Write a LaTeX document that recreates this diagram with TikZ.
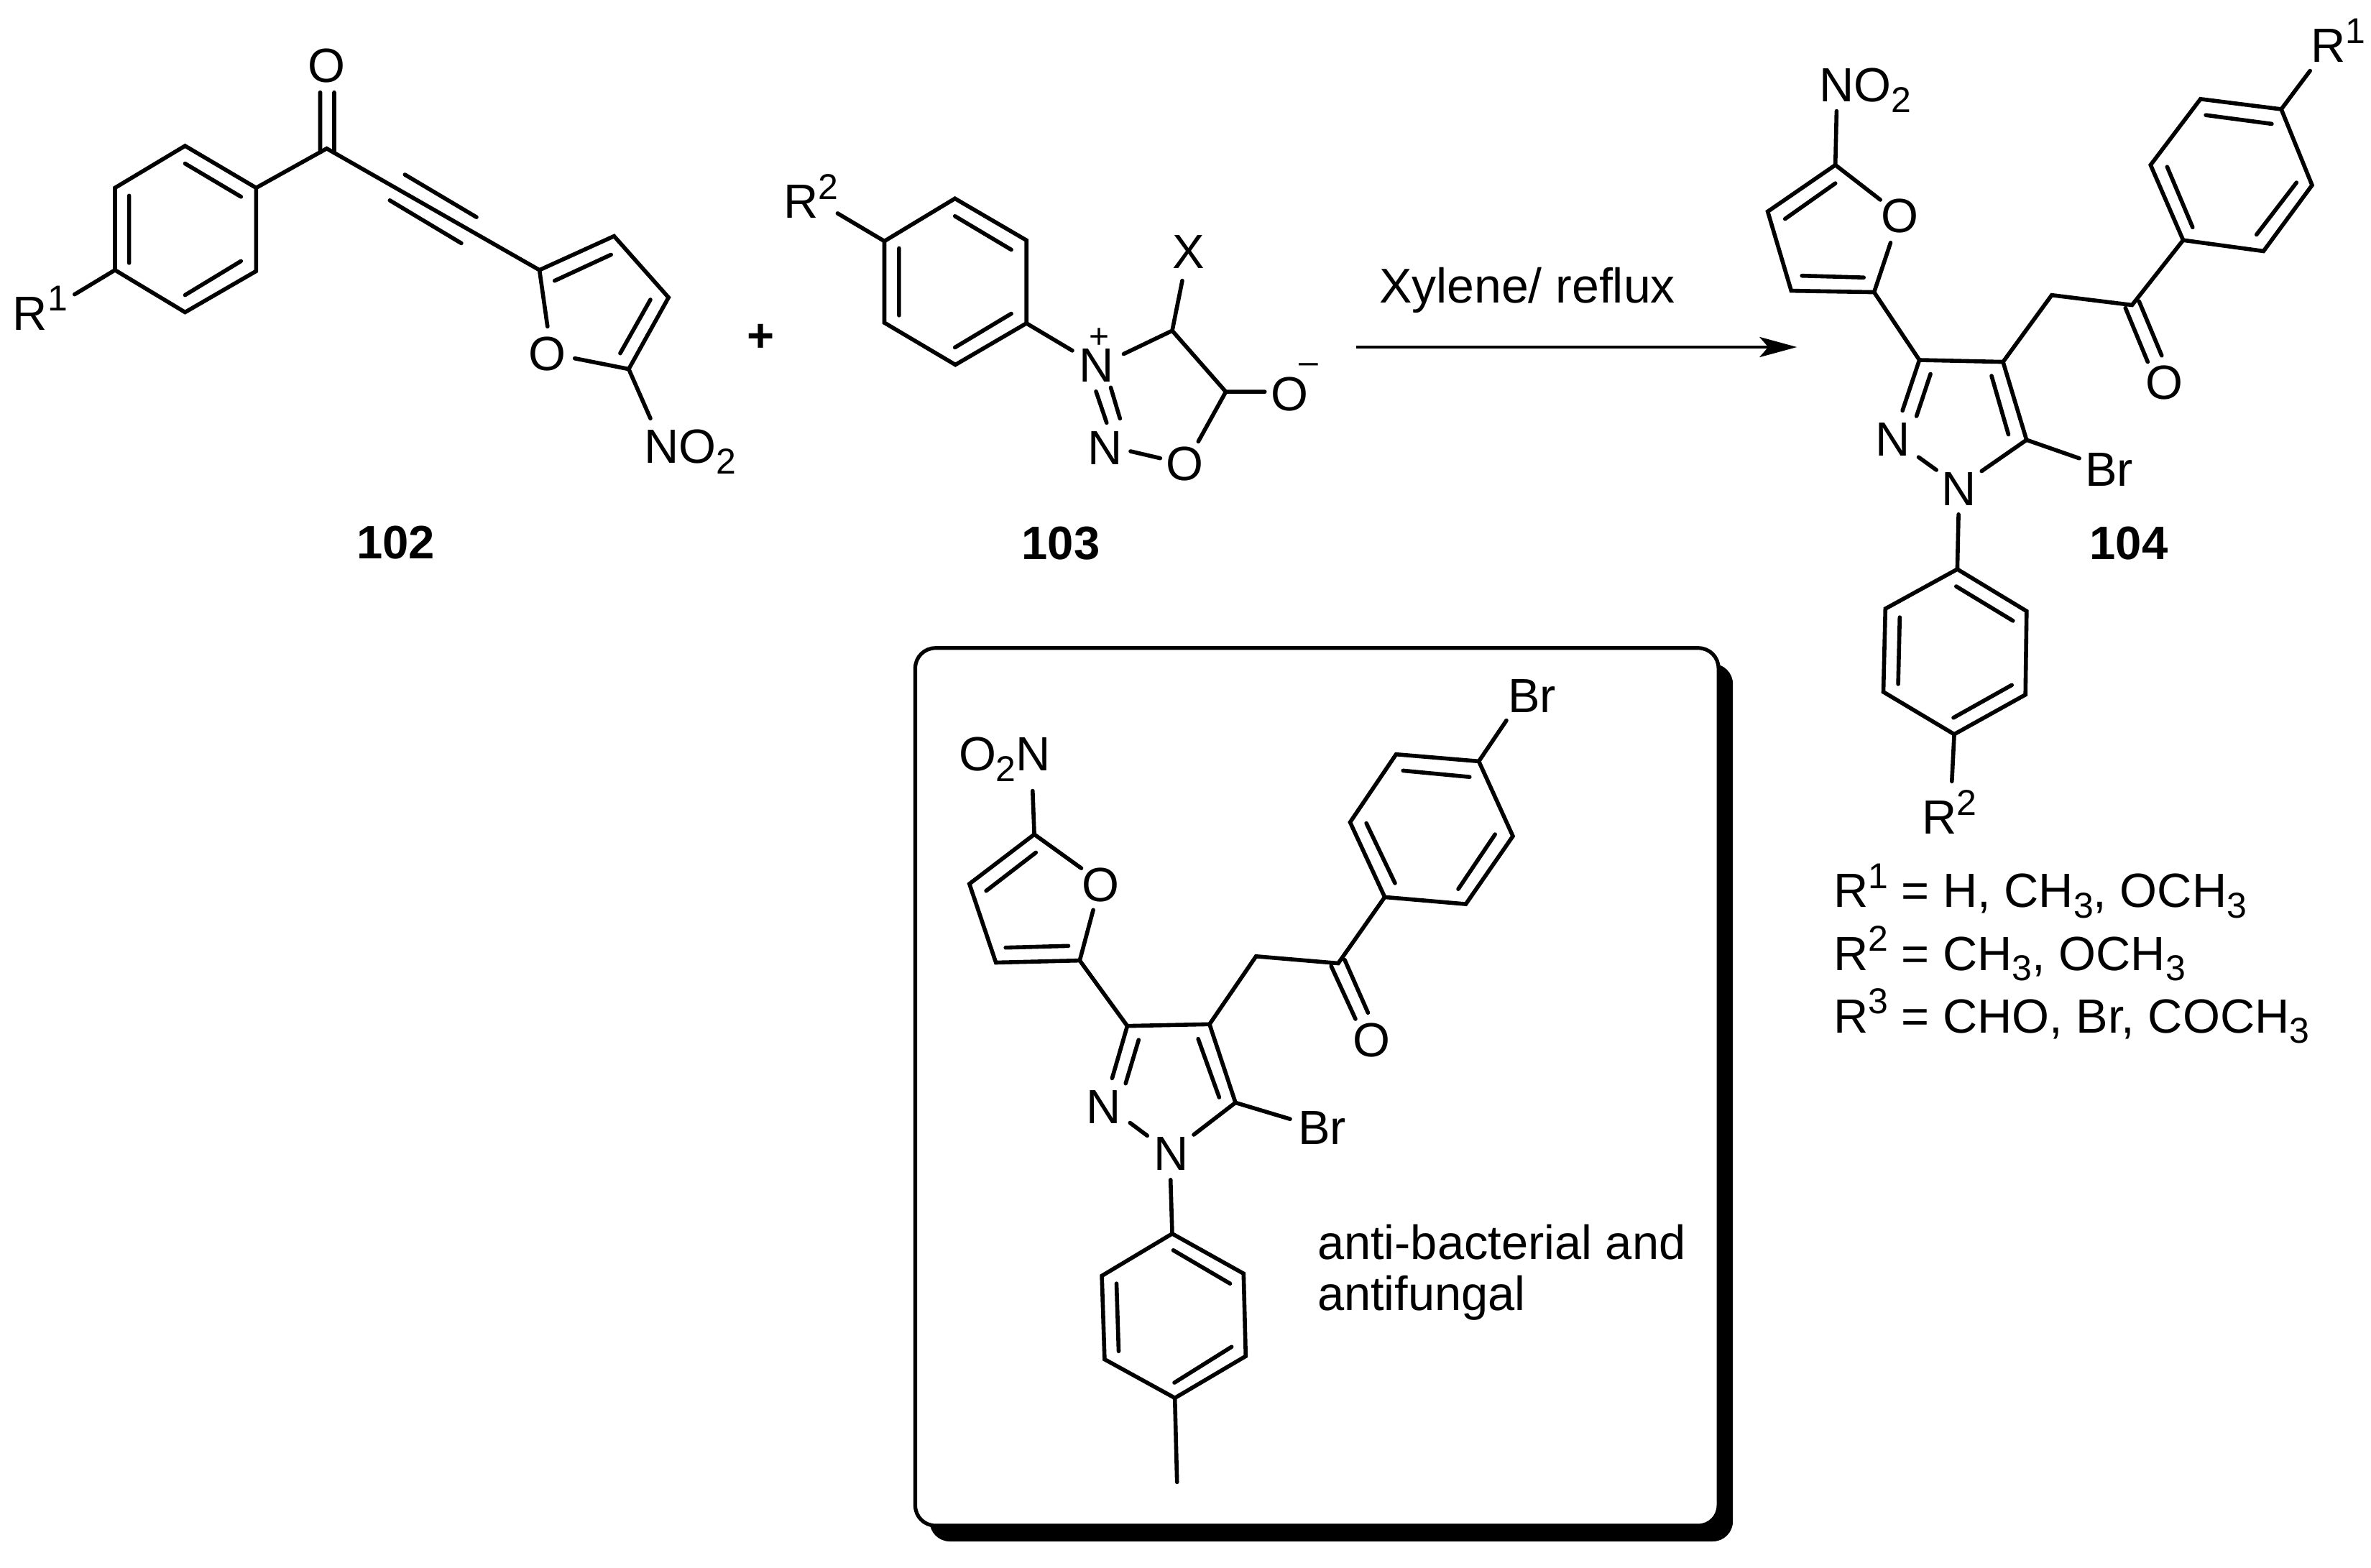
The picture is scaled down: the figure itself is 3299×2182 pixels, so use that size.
\documentclass[tikz,border=0pt]{standalone}
\usepackage{fontspec}
\setmainfont{Liberation Sans}
\usetikzlibrary{arrows.meta}
\newcommand{\supn}[1]{\raisebox{6.6pt}{\fontsize{12.5}{12.5}\selectfont #1}}
\newcommand{\subn}[1]{\raisebox{-3.7pt}{\fontsize{12.5}{12.5}\selectfont #1}}
\newcommand{\chargen}[3]{\rlap{\kern#1\raisebox{#2}{\fontsize{12}{12}\selectfont #3}}}
\tikzset{
  bond/.style={line width=1.4pt,line cap=round,line join=miter},
  lab/.style={inner sep=0pt,outer sep=0pt,font=\fontsize{16.7}{18}\selectfont},
  numlab/.style={lab,anchor=base,font=\fontsize{16.3}{18}\selectfont\bfseries},
  panel/.style={rectangle,rounded corners=7pt,minimum width=279.4pt,minimum height=305.3pt,inner sep=0pt},
  reaction/.style={line width=1.2pt,-{Stealth[length=13pt,width=7pt,inset=3pt]}}
}
\begin{document}
\begin{tikzpicture}[x=0.25pt,y=-0.25pt]
\useasboundingbox (0,0) rectangle (3299,2182);
% panel
\node[panel,fill=black] (panelshadow) at (1852.3,1534.4) {};
\node[panel,draw=black,fill=white,line width=1.3pt] (panelbox) at (1832.3,1512.4) {};
% vertices
\foreach \n/\x/\y in {
 a1/257.5/203,a2/356.4/261.4,a3/356.4/377.3,a4/257.5/434.5,a5/160/375.8,a6/160/261.4,
 a12i/257.5/227.6,a2i/335.3/273.8,a6i/179.6/272.3,a5i/179.6/365.9,a3i/335.3/363.4,a4i/257.5/410.6,
 aR/103.8/409.7,aC/454.6/206.7,aO1/445.5/128.6,aO2/465/128.6,aC1/445.5/211.7,aC2/465/212.6,
 at1/563.3/243,at2/663/302.2,at3/542.3/278.8,at4/641.9/338.5,
 af2/750.6/375.8,af3/854.4/328.6,af4/930.2/414,af5/874.8/513.6,
 af2i/771.7/390.7,af3i/850.2/354.4,af4i/905/417,af5i/862.9/491.7,
 afO1/761.8/454.4,afO2/799.7/498.7,afN/905/582.3,
 b1/1328.7/276.3,b2/1428.2/334.4,b3/1428.2/449.9,b4/1329.3/507.6,b5/1230.5/449.1,b6/1230.5/335.6,
 b1i/1328.7/300.8,b2i/1407.1/347.5,b6i/1250.9/345.5,b5i/1250.9/438.8,b3i/1407.1/436.5,b4i/1328.7/483.5,
 bR/1165.4/296.9,bNa/1492/487.9,bNb/1563.4/492.6,bC4/1631/460.2,bX/1645/390.6,bC5/1705.6/545.2,
 bOm/1759.8/545.2,bOr/1667.3/614.4,bOl/1614.4/637.7,bNr/1573/628,
 bd1/1525/544.8,bd2/1539.8/588.3,bd3/1545.5/539.3,bd4/1558.3/582.4,
 arrS/1886.7/483,arrE/2500.3/483,
 cf5/2553.7/229.6,cf4/2459.6/294.4,cf3/2492.3/404.6,cf2/2607.6/406.6,
 cfOa/2616.2/278,cfOb/2630.5/337.8,cf5i/2553.7/255.1,cf4i/2483.7/304.6,cf3i/2507.2/383.7,cf2i/2593.2/386.2,
 cfN/2555.4/154.6,cp3/2670.6/501,cp4/2787/503.6,cp5/2819.7/612.2,
 cp3a/2647.1/571.4,cp3b/2686.1/520.4,cp3c/2666.6/579.1,cp4i/2771/523,cp5i/2794.5/604.6,
 cnn1/2669.5/636.2,cnn2/2694.2/654,cn1/2757.2/655.6,cBr/2893.1/637.8,
 cH/2854.7/410.7,cCO/2966.5/424.5,cd1/2957.3/428.6,cd2/2988.3/503.6,cd3/2976.3/419.4,cd4/3007.8/494.9,
 cr1/3037.6/334.2,cr2/3149.4/349.5,cr3/3217/257.7,cr4/3174.1/152,cr5/3061.7/137.8,cr6/2992.3/229.6,
 cr6i/3015.3/232.1,cr1i/3050.8/316.3,cr2i/3139.7/326.5,cr3i/3195.3/254.1,cr4i/3160.9/172.4,cr5i/3069.1/160.2,
 cR1/3214.2/98.5,cNb/2725.1/715.8,
 cq1/2723.4/792.1,cq2/2819.8/850.5,cq3/2818.2/966.7,cq4/2719.1/1021.8,cq5/2620.5/962.9,cq6/2623.3/847.1,
 cq1i/2721.8/816,cq2i/2800.8/863.9,cq6i/2643.3/859.1,cq5i/2641.1/951.9,cq3i/2799.2/953.3,cq4i/2718/998.8,
 cR2/2715.8/1087.3,
 df5/1439.1/1161.1,df4/1348.8/1230,df3/1385.7/1339.5,df2/1502.3/1336.6,
 dfOa/1504.5/1208.2,dfOb/1521.1/1266.3,df5i/1441.3/1186.4,df4i/1372.1/1239.7,df3i/1399.2/1318.7,df2i/1486.5/1316.3,
 dfN/1436.8/1100.6,dp3/1568.5/1427.7,dp4/1682.9/1425.3,dp5/1719/1534.4,
 dp3a/1547.4/1500.5,dp3b/1584.3/1447.1,dp3c/1566.2/1507.7,dp4i/1667.1/1445.7,dp5i/1696.4/1527.1,
 dnn1/1572.3/1562.5,dnn2/1596.3/1580.4,dn1/1661/1579,dBr/1795/1557.2,
 dH/1747.6/1330.8,dCO/1862/1340.5,dd1/1852.2/1344.4,dd2/1886/1418,dd3/1871/1335.7,dd4/1903.4/1409.3,
 dr1/1926.7/1248.4,dr2/2039.5/1258.1,dr3/2105/1163.6,dr4/2057.6/1059.4,dr5/1942.5/1049.7,dr6/1878.5/1144.2,
 dr6i/1901.1/1145.6,dr1i/1941/1229,dr2i/2029/1237.2,dr3i/2080.2/1161.1,dr4i/2044.8/1081.2,dr5i/1952.2/1072.4,
 dBr2/2096/1002.6,dNb/1628.7/1641.8,
 dq1/1631/1716.8,dq2/1730.3/1772.3,dq3/1733.3/1887.2,dq4/1634.7/1945.4,dq5/1536.9/1891.6,dq6/1533.1/1775.4,
 dq1i/1632.5/1739.8,dq2i/1711.5/1786.2,dq6i/1553.5/1786.2,dq5i/1556.5/1880.3,dq3i/1713.7/1874.2,dq4i/1634/1924.1,
 dMe/1637.7/2062.4}
 \coordinate (\n) at (\x,\y);
% compound 102
\draw[bond] (a1)--(a2)--(a3)--(a4)--(a5)--(a6)--cycle;
\draw[bond] (a12i)--(a2i) (a6i)--(a5i) (a3i)--(a4i) (a5)--(aR) (a2)--(aC)--(af2);
\draw[bond] (aO1)--(aC1) (aO2)--(aC2) (at1)--(at2) (at3)--(at4);
\draw[bond] (af2)--(af3)--(af4)--(af5)--(afO2) (af2)--(afO1) (af2i)--(af3i) (af4i)--(af5i) (af5)--(afN);
\node[lab,anchor=base west] (R1a) at (18,459.4) {R\supn{1}};
\node[lab,anchor=base] (Oa) at (454.6,115) {O};
\node[lab,anchor=base] (Ofa) at (761,516) {O};
\node[lab,anchor=base west] (NO2a) at (896,644.5) {NO\subn{2}};
\node[numlab] (n102) at (550.7,777.8) {102};
\node[numlab] (plus) at (1059,490) {+};
% compound 103
\draw[bond] (b1)--(b2)--(b3)--(b4)--(b5)--(b6)--cycle;
\draw[bond] (b1i)--(b2i) (b6i)--(b5i) (b3i)--(b4i) (b6)--(bR) (b3)--(bNa) (bNb)--(bC4)--(bC5)--(bOr) (bC4)--(bX) (bC5)--(bOm) (bOl)--(bNr) (bd1)--(bd2) (bd3)--(bd4);
\node[lab,anchor=base west] (R2b) at (1090,303.6) {R\supn{2}};
\node[lab,anchor=base] (Npb) at (1526,531.4) {N\chargen{-8.6pt}{11.7pt}{+}};
\node[lab,anchor=base] (Xb) at (1654,374) {X};
\node[lab,anchor=base] (Omb) at (1794.3,571) {O\chargen{-3.3pt}{12.8pt}{–}};
\node[lab,anchor=base] (Ob) at (1648.9,669) {O};
\node[lab,anchor=base] (Nb) at (1537.9,646) {N};
\node[numlab] (n103) at (1476,778) {103};
% arrow
\draw[reaction] (arrS)--(arrE);
\node[lab,anchor=base west,font=\fontsize{17}{18}\selectfont] (cond) at (1919,422) {Xylene/ reflux};
% compound 104
\draw[bond] (cf5)--(cf4)--(cf3)--(cf2)--(cfOb) (cf5)--(cfOa) (cf5i)--(cf4i) (cf3i)--(cf2i) (cf5)--(cfN) (cf2)--(cp3);
\draw[bond] (cp3a)--(cp3)--(cp4)--(cp5)--(cn1) (cp3b)--(cp3c) (cp4i)--(cp5i) (cnn1)--(cnn2) (cp5)--(cBr);
\draw[bond] (cp4)--(cH)--(cCO)--(cr1) (cd1)--(cd2) (cd3)--(cd4);
\draw[bond] (cr1)--(cr2)--(cr3)--(cr4)--(cr5)--(cr6)--cycle;
\draw[bond] (cr6i)--(cr1i) (cr2i)--(cr3i) (cr4i)--(cr5i) (cr4)--(cR1) (cNb)--(cq1);
\draw[bond] (cq1)--(cq2)--(cq3)--(cq4)--(cq5)--(cq6)--cycle;
\draw[bond] (cq1i)--(cq2i) (cq6i)--(cq5i) (cq3i)--(cq4i) (cq4)--(cR2);
\node[lab,anchor=base west] (NO2c) at (2531,141.3) {NO\subn{2}};
\node[lab,anchor=base] (Ofc) at (2643.1,324) {O};
\node[lab,anchor=base] (N2c) at (2634,634.2) {N};
\node[lab,anchor=base] (N1c) at (2725.7,703) {N};
\node[lab,anchor=base west] (Brc) at (2901,676) {Br};
\node[lab,anchor=base] (Oc) at (3011.2,556) {O};
\node[lab,anchor=base west] (R1c) at (3215,86.7) {R\supn{1}};
\node[numlab] (n104) at (2962,778) {104};
\node[lab,anchor=base west] (R2c) at (2674,1160.5) {R\supn{2}};
\node[lab,anchor=base west] (l1) at (2551,1262.9) {R\supn{1} = H, CH\subn{3}, OCH\subn{3}};
\node[lab,anchor=base west] (l2) at (2551,1350) {R\supn{2} = CH\subn{3}, OCH\subn{3}};
\node[lab,anchor=base west] (l3) at (2551,1437) {R\supn{3} = CHO, Br, COCH\subn{3}};
% panel compound
\draw[bond] (df5)--(df4)--(df3)--(df2)--(dfOb) (df5)--(dfOa) (df5i)--(df4i) (df3i)--(df2i) (df5)--(dfN) (df2)--(dp3);
\draw[bond] (dp3a)--(dp3)--(dp4)--(dp5)--(dn1) (dp3b)--(dp3c) (dp4i)--(dp5i) (dnn1)--(dnn2) (dp5)--(dBr);
\draw[bond] (dp4)--(dH)--(dCO)--(dr1) (dd1)--(dd2) (dd3)--(dd4);
\draw[bond] (dr1)--(dr2)--(dr3)--(dr4)--(dr5)--(dr6)--cycle;
\draw[bond] (dr6i)--(dr1i) (dr2i)--(dr3i) (dr4i)--(dr5i) (dr4)--(dBr2) (dNb)--(dq1);
\draw[bond] (dq1)--(dq2)--(dq3)--(dq4)--(dq5)--(dq6)--cycle;
\draw[bond] (dq1i)--(dq2i) (dq6i)--(dq5i) (dq3i)--(dq4i) (dq4)--(dMe);
\node[lab,anchor=base west] (O2Nd) at (1334,1072.9) {O\subn{2}N};
\node[lab,anchor=base] (Ofd) at (1531.6,1254) {O};
\node[lab,anchor=base] (N2d) at (1536,1563) {N};
\node[lab,anchor=base] (N1d) at (1629.5,1628) {N};
\node[lab,anchor=base west] (Brd) at (1806,1592.6) {Br};
\node[lab,anchor=base] (Od) at (1908.6,1470) {O};
\node[lab,anchor=base west] (Br2d) at (2098,991.5) {Br};
\node[lab,anchor=base west] (t1) at (1833,1752.4) {anti-bacterial and};
\node[lab,anchor=base west] (t2) at (1833,1823) {antifungal};
\end{tikzpicture}
\end{document}
